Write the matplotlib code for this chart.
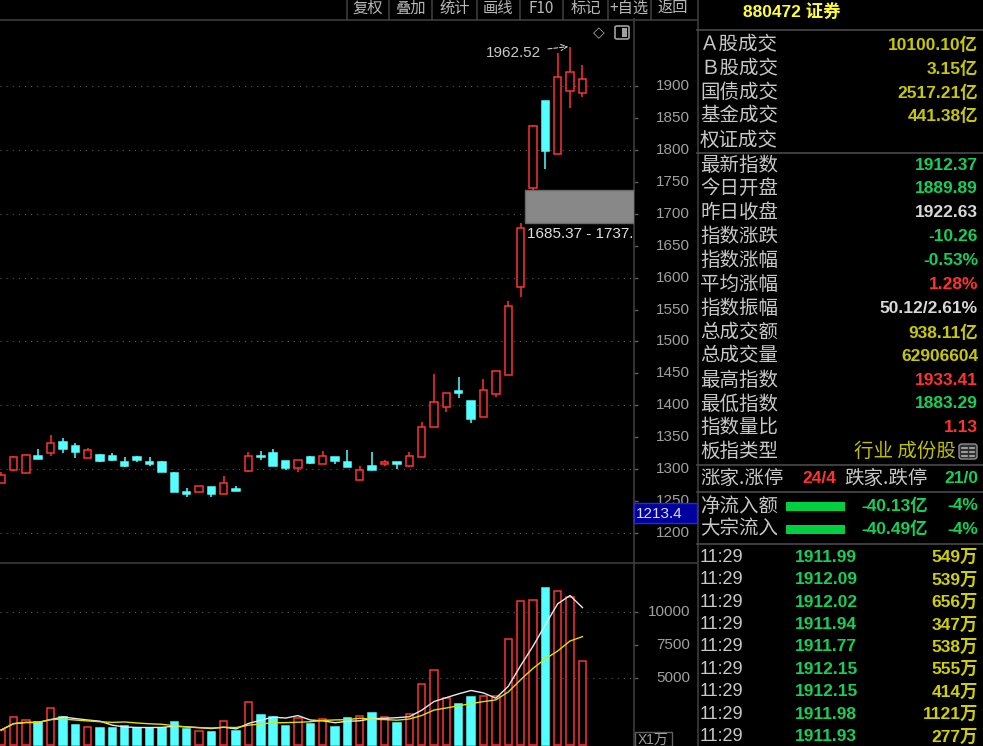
import matplotlib
matplotlib.use('Agg')
import matplotlib.pyplot as plt
import numpy as np
import pandas as pd
from matplotlib.patches import Rectangle, FancyBboxPatch
from matplotlib.lines import Line2D
from matplotlib.transforms import blended_transform_factory

W, H = 983, 746
plt.rcParams['font.family'] = ['Noto Sans CJK SC', 'DejaVu Sans']

# ---------------- data ----------------
opens = [1278, 1298, 1294, 1321, 1325.5, 1342, 1336, 1317.6, 1322, 1321,
         1311, 1318.7, 1311, 1310.4, 1293, 1263.3, 1264.3, 1271.2, 1260.7, 1268.5,
         1297.2, 1320.8, 1324.5, 1313, 1302, 1318.7, 1307.7, 1318.7, 1311, 1282.2,
         1305, 1307.7, 1310.9, 1305, 1319, 1366, 1397.6, 1422.7, 1407, 1382,
         1417.6, 1447, 1585, 1740, 1877.7, 1794, 1893, 1889.89]
highs = [1295, 1320, 1323, 1332, 1354, 1348.5, 1340, 1332.5, 1323, 1324.5,
         1318.7, 1321, 1318.7, 1313, 1295, 1270, 1273.5, 1271.5, 1289.4, 1273.7,
         1326, 1328.6, 1331, 1313, 1314.5, 1321, 1328.6, 1319, 1329, 1305,
         1326.6, 1313.5, 1311, 1326.6, 1373.6, 1448.5, 1419, 1444.7, 1407, 1440.6,
         1454, 1563.5, 1685.37, 1839, 1878, 1952, 1962.52, 1933.41]
lows = [1278, 1297, 1293, 1315, 1321, 1325.5, 1317, 1317, 1311, 1313,
        1303.5, 1311, 1305, 1295, 1264, 1256.4, 1264, 1256.4, 1260.5, 1265.8,
        1295.7, 1314, 1305, 1298.8, 1295.7, 1307.3, 1307.5, 1307.3, 1303, 1282,
        1298, 1305, 1299.4, 1303.5, 1319, 1366, 1389.8, 1411.3, 1372, 1382,
        1413.3, 1447, 1570, 1737.5, 1770, 1794, 1866.7, 1883.29]
closes = [1290, 1319, 1322, 1316, 1340, 1331, 1327, 1330, 1312, 1313.5,
          1305, 1313.5, 1307.7, 1295.7, 1264.3, 1260.7, 1273.2, 1260.7, 1277.5, 1265.8,
          1320.8, 1318.3, 1305.1, 1301, 1314.5, 1309.3, 1320.3, 1312, 1303.5, 1298.8,
          1298, 1310.9, 1307.7, 1320.3, 1365, 1405, 1418.7, 1418.7, 1378, 1424.3,
          1453.7, 1555.6, 1677.5, 1838, 1799.3, 1914.4, 1922.63, 1912.37]
volumes = [1125, 2075, 1875, 1700, 2750, 2125, 1475, 1325, 1250, 1250,
           1450, 1300, 1300, 1300, 1700, 1175, 1025, 975, 1800, 1075,
           3200, 2275, 2100, 1450, 2000, 1550, 1975, 1375, 2000, 2175,
           2375, 2075, 1625, 2350, 4600, 5650, 3550, 3050, 3600, 3675,
           3675, 7975, 10800, 10875, 11750, 11550, 11075, 6291]

price_ticks = list(range(1200, 1901, 50))
price_grid = list(range(1200, 1901, 100))
vol_ticks = [5000, 7500, 10000]
vol_grid = [5000, 10000]

toolbar = ['复权', '叠加', '统计', '画线', 'F10', '标记', '+自选', '返回']

title = '880472 证券'
info_labels = ['Ａ股成交', 'Ｂ股成交', '国债成交', '基金成交', '权证成交',
               '最新指数', '今日开盘', '昨日收盘', '指数涨跌', '指数涨幅', '平均涨幅',
               '指数振幅', '总成交额', '总成交量', '最高指数', '最低指数', '指数量比', '板指类型']
info_values = ['10100.10亿', '3.15亿', '2517.21亿', '441.38亿', '',
               '1912.37', '1889.89', '1922.63', '-10.26', '-0.53%', '1.28%',
               '50.12/2.61%', '938.11亿', '62906604', '1933.41', '1883.29', '1.13', '行业 成份股']
info_kinds = ['y', 'y', 'y', 'y', 'y',
              'g', 'g', 'w', 'g', 'g', 'r',
              'w', 'y', 'y', 'r', 'g', 'r', 'o']

updown_labels = ['涨家.涨停', '跌家.跌停']
updown_values = ['24/4', '21/0']
flow_labels = ['净流入额', '大宗流入']
flow_values = ['-40.13亿', '-40.49亿']
flow_pcts = ['-4%', '-4%']

tick_times = ['11:29'] * 9
tick_prices = ['1911.99', '1912.09', '1912.02', '1911.94', '1911.77', '1912.15', '1912.15', '1911.98', '1911.93']
tick_vols = ['549万', '539万', '656万', '347万', '538万', '555万', '414万', '1121万', '277万']

# ---------------- style ----------------
RED = '#ff3232'
CYAN = '#54ffff'
GREEN = '#14d05a'
YEL = '#c8c800'
GRAY = '#c8c8c8'
AXC = '#a0a0a0'
LINEC = '#3c3c3c'
NUM = ['Liberation Sans', 'Noto Sans CJK SC']
CJK = ['Noto Sans CJK SC', 'DejaVu Sans']
kind_color = {'y': YEL, 'g': GREEN, 'w': '#d8d8d8', 'r': RED, 'o': '#c0c000'}

fig = plt.figure(figsize=(W / 100, H / 100), dpi=100, facecolor='black')


def fx(px):
    return px / W


def fy(py):
    return 1 - py / H


def fline(xs, ys, color=LINEC, lw=1.2, z=3):
    fig.add_artist(Line2D([fx(x) for x in xs], [fy(y) for y in ys], color=color, lw=lw,
                          transform=fig.transFigure, zorder=z))


ax = fig.add_axes([0, fy(563), fx(634), fy(19) - fy(563)], facecolor='black')
axv = fig.add_axes([0, 0, fx(634), fy(563)], facecolor='black')

n = len(closes)
x = np.arange(n)
xl = (-0.089, 51.17)

o = np.array(opens); c = np.array(closes); h = np.array(highs); l = np.array(lows)
up = c >= o
body_lo = np.minimum(o, c)
body_hi = np.maximum(o, c)
bw = 0.6

# wicks
ax.vlines(x[up], body_hi[up], h[up], color=RED, lw=1.1, zorder=2)
ax.vlines(x[up], l[up], body_lo[up], color=RED, lw=1.1, zorder=2)
ax.vlines(x[~up], l[~up], h[~up], color=CYAN, lw=1.1, zorder=2)
# bodies
ax.bar(x[up], (body_hi - body_lo)[up], bottom=body_lo[up], width=bw, facecolor='black',
       edgecolor=RED, lw=1.1, zorder=3)
ax.bar(x[~up], np.maximum((body_hi - body_lo)[~up], 0.5), bottom=body_lo[~up], width=bw,
       facecolor=CYAN, edgecolor=CYAN, lw=1.1, zorder=3)

ax.set_xlim(*xl)
ax.set_ylim(1152.4, 2005.9)
for v in price_grid:
    ax.axhline(v, color='#5a5a5a', lw=0.8, ls=(0, (1, 4.5)), zorder=1)

for s in ['top', 'left', 'bottom']:
    ax.spines[s].set_visible(False)
ax.spines['right'].set_color(LINEC)
ax.spines['right'].set_linewidth(1.2)
ax.yaxis.tick_right()
ax.set_yticks(price_ticks)
ax.set_yticklabels([])
ax.set_xticks([])
ax.tick_params(axis='y', direction='out', length=3, width=1, color='#606060')

tr = blended_transform_factory(fig.transFigure, ax.transData)
for v in price_ticks:
    ax.text(fx(690), v, str(v), transform=tr, ha='right', va='center', color=AXC,
            fontsize=11, family=NUM, clip_on=False)

# gap box
gap_lo, gap_hi = highs[42], lows[43]
ax.add_patch(Rectangle((42 + 0.34, gap_lo), xl[1] - 42.34, gap_hi - gap_lo,
                       facecolor='#888888', edgecolor='#6a6a6a', lw=1, zorder=4))
ax.text(42.52, 1669, f'{gap_lo:.2f} - {gap_hi:.2f}', ha='left', va='center', color='#e0e0e0',
        fontsize=11, family=NUM, clip_on=True, zorder=5)

# max annotation
ax.annotate(f'{highs[46]:.2f}', xy=(45.85, highs[46]), xytext=(43.65, 1953),
            ha='right', va='center', color='#c8c8c8', fontsize=11, family=NUM,
            arrowprops=dict(arrowstyle='->', color='#c8c8c8', ls='--', lw=0.8,
                            shrinkA=3, shrinkB=0), zorder=6)

# ---------------- volume ----------------
axv.bar(x[up], np.array(volumes)[up], width=bw, facecolor='black', edgecolor=RED, lw=1.1, zorder=3)
axv.bar(x[~up], np.array(volumes)[~up], width=bw, facecolor=CYAN, edgecolor=CYAN, lw=1.1, zorder=3)
vs = pd.Series(volumes, dtype=float)
axv.plot(x, vs.rolling(5, min_periods=1).mean(), color='#e8e8e8', lw=1.0, zorder=4)
axv.plot(x, vs.rolling(10, min_periods=1).mean(), color='#e0e000', lw=1.0, zorder=4)
axv.set_xlim(*xl)
axv.set_ylim(-75, 13650)
for v in vol_grid:
    axv.axhline(v, color='#5a5a5a', lw=0.8, ls=(0, (1, 4.5)), zorder=1)
for s in ['top', 'left', 'bottom']:
    axv.spines[s].set_visible(False)
axv.spines['right'].set_color(LINEC)
axv.spines['right'].set_linewidth(1.2)
axv.yaxis.tick_right()
axv.set_yticks(vol_ticks)
axv.set_yticklabels([])
axv.set_xticks([])
axv.tick_params(axis='y', direction='out', length=3, width=1, color='#606060')
trv = blended_transform_factory(fig.transFigure, axv.transData)
for v in vol_ticks:
    axv.text(fx(690), v, str(v), transform=trv, ha='right', va='center', color=AXC,
             fontsize=11, family=NUM, clip_on=False)

# X1万 box
fig.add_artist(Rectangle((fx(635), fy(746)), fx(672) - fx(635), fy(731.5) - fy(746),
                         transform=fig.transFigure, facecolor='black', edgecolor='#606060',
                         lw=1, zorder=8))
fig.text(fx(653.5), fy(739.5), 'X1万', ha='center', va='center', color=AXC, fontsize=10,
         family=NUM, zorder=9)

# cursor price box
fig.add_artist(Rectangle((fx(634), fy(523)), fx(697) - fx(634), fy(503.5) - fy(523),
                         transform=fig.transFigure, facecolor='#0000a0', edgecolor='#2a2ac8',
                         lw=1, zorder=10))
fig.text(fx(636), fy(513.5), '1213.4', ha='left', va='center', color='#e0e0e0', fontsize=11,
         family=NUM, zorder=11)

# ---------------- frame lines ----------------
fline([0, 697], [19.5, 19.5])
fline([0, 697], [563.3, 563.3])
fline([697.5, 697.5], [0, 746])
for yy in [29.5, 152.5, 465, 492, 544]:
    fline([697, 983], [yy, yy], color='#4a4a4a')

# toolbar
seps = [346.7, 389, 432, 476.7, 520, 563.3, 607.7, 650.7, 695]
for sx in seps[:-1]:
    fline([sx, sx], [0, 19.5])
for i, lab in enumerate(toolbar):
    cx = (seps[i] + seps[i + 1]) / 2
    fig.text(fx(cx), fy(8.5), lab, ha='center', va='center', color='#b8b8b8', fontsize=11,
             family=CJK)

# icons
fig.text(fx(599), fy(32.5), '◇', ha='center', va='center', color='#a0a0a0', fontsize=11,
         family=['DejaVu Sans'])
fig.add_artist(FancyBboxPatch((fx(615), fy(39)), fx(629) - fx(615), fy(26) - fy(39),
                              boxstyle='round,pad=0,rounding_size=0.002', transform=fig.transFigure,
                              facecolor='none', edgecolor='#a0a0a0', lw=1.2, zorder=8))
fig.add_artist(Rectangle((fx(622), fy(36.5)), fx(627) - fx(622), fy(28.5) - fy(36.5),
                         transform=fig.transFigure, facecolor='#a0a0a0', edgecolor='none', zorder=9))

# ---------------- right panel ----------------
fig.text(fx(743), fy(11), title, ha='left', va='center', color='#ffff30', fontsize=12.5,
         family=NUM, weight='bold')

for k, (lab, val, kd) in enumerate(zip(info_labels, info_values, info_kinds)):
    yy = 44.5 + 23.9 * k + (1.0 if k >= 5 else 0)
    fig.text(fx(700), fy(yy), lab, ha='left', va='center', color=GRAY, fontsize=14, family=CJK)
    if not val:
        continue
    if kd == 'o':
        fig.text(fx(956), fy(yy), val, ha='right', va='center', color=kind_color[kd],
                 fontsize=14, family=CJK)
        fig.add_artist(FancyBboxPatch((fx(959), fy(459)), fx(977) - fx(959), fy(444) - fy(459),
                                      boxstyle='round,pad=0,rounding_size=0.003',
                                      transform=fig.transFigure, facecolor='#303030',
                                      edgecolor='#909090', lw=1, zorder=8))
        for gy in [447.5, 451.5, 455.5]:
            fline([962, 974], [gy, gy], color='#b0b0b0', lw=1.2, z=9)
        fline([968, 968], [446, 457], color='#303030', lw=1, z=10)
    else:
        fig.text(fx(978), fy(yy), val, ha='right', va='center', color=kind_color[kd],
                 fontsize=12.5, family=NUM, weight='bold')

# up/down counts
yy = 478.5
fig.text(fx(700), fy(yy), updown_labels[0], ha='left', va='center', color=GRAY, fontsize=14, family=CJK)
fig.text(fx(802), fy(yy), updown_values[0], ha='left', va='center', color=RED, fontsize=12.5,
         family=NUM, weight='bold')
fig.text(fx(844), fy(yy), updown_labels[1], ha='left', va='center', color=GRAY, fontsize=14, family=CJK)
fig.text(fx(978), fy(yy), updown_values[1], ha='right', va='center', color=GREEN, fontsize=12.5,
         family=NUM, weight='bold')

# flows
for k in range(2):
    yy = 506 + 23 * k
    fig.text(fx(700), fy(yy), flow_labels[k], ha='left', va='center', color=GRAY, fontsize=14, family=CJK)
    fig.add_artist(Rectangle((fx(786), fy(yy + 4.5)), fx(845) - fx(786), fy(yy - 4.5) - fy(yy + 4.5),
                             transform=fig.transFigure, facecolor='#00d040', edgecolor='none', zorder=8))
    fig.text(fx(861), fy(yy), flow_values[k], ha='left', va='center', color=GREEN, fontsize=12.5,
             family=NUM, weight='bold')
    fig.text(fx(978), fy(yy), flow_pcts[k], ha='right', va='center', color=GREEN, fontsize=12.5,
             family=NUM, weight='bold')

# tick rows
for k in range(len(tick_times)):
    yy = 557.3 + 22.4 * k
    fig.text(fx(700), fy(yy), tick_times[k], ha='left', va='center', color=GRAY, fontsize=13,
             family=NUM)
    fig.text(fx(795), fy(yy), tick_prices[k], ha='left', va='center', color=GREEN, fontsize=12.5,
             family=NUM, weight='bold')
    fig.text(fx(978), fy(yy), tick_vols[k], ha='right', va='center', color='#d0d000', fontsize=12.5,
             family=NUM, weight='bold')

fig.savefig('out.png', dpi=100, facecolor='black')
